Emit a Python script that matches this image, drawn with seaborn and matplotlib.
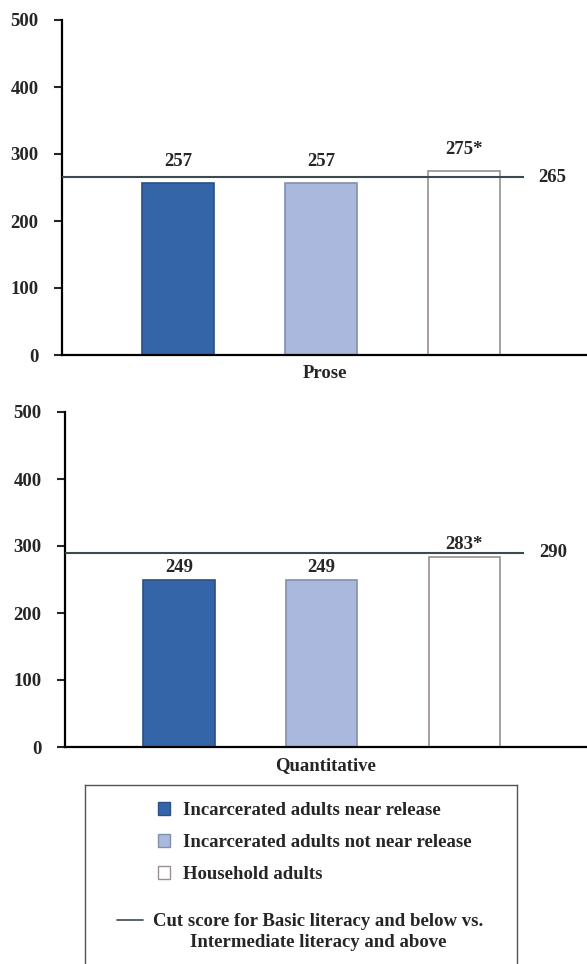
import matplotlib
matplotlib.use("Agg")
import matplotlib.pyplot as plt
import seaborn as sns
import pandas as pd
from matplotlib.patches import Patch

sns.set_style("white")
plt.rcParams['font.family'] = ['Liberation Serif', 'DejaVu Serif']
plt.rcParams['font.weight'] = 'bold'

# data
groups = ["Incarcerated adults near release",
          "Incarcerated adults not near release",
          "Household adults"]
prose = [257, 257, 275]
quant = [249, 249, 283]
prose_labels = ["257", "257", "275*"]
quant_labels = ["249", "249", "283*"]
cut_scores = [265, 290]
panels = ["Prose", "Quantitative"]

fills = ["#3465A9", "#A9B8DC", "#FFFFFF"]
edges = ["#2B4F86", "#8290AB", "#9A9090"]
fs = 13.5

fig = plt.figure(figsize=(5.87, 9.64), dpi=100)
ax1 = fig.add_axes([62/587, 1-355/964, 1-62/587, 335/964])
ax2 = fig.add_axes([65/587, 1-747/964, 1-65/587, 335/964])

for ax, vals, labs, cut, name, pad, left in [
        (ax1, prose, prose_labels, cut_scores[0], panels[0], 9, -0.81),
        (ax2, quant, quant_labels, cut_scores[1], panels[1], 3, -0.80)]:
    df = pd.DataFrame({"group": groups, "score": vals})
    sns.barplot(data=df, x="group", y="score", hue="group", palette=fills,
                legend=False, width=0.5, ax=ax, linewidth=1.2, saturation=1)
    for p, ec in zip(ax.patches, edges):
        p.set_edgecolor(ec)
    for c, lab in zip(ax.containers, labs):
        ax.bar_label(c, labels=[lab], padding=pad, fontsize=fs, fontweight='bold')
    ax.hlines(cut, left, 2.42, color="#3C4A50", linewidth=1.5, zorder=3)
    ax.text(2.62, cut, str(cut), ha='center', va='center', fontsize=fs, fontweight='bold')
    ax.set_xlim(left, 2.86)
    ax.set_ylim(0, 500)
    ax.set_yticks([0, 100, 200, 300, 400, 500])
    ax.set_xticks([])
    ax.set_xlabel(name, fontsize=fs, fontweight='bold', labelpad=7)
    ax.set_ylabel("")
    sns.despine(ax=ax)
    for s in ["left", "bottom"]:
        ax.spines[s].set_linewidth(1.6)
        ax.spines[s].set_color("black")
    ax.tick_params(axis='y', direction='out', length=6, width=1.5, pad=11,
                   labelsize=fs, left=True)
    ax.tick_params(axis='x', length=0)

# legend box
axl = fig.add_axes([85/587, -0.02, 432/587, 1-785/964+0.02])
axl.set_xticks([])
axl.set_yticks([])
for s in axl.spines.values():
    s.set_color("#555555")
    s.set_linewidth(1.0)
handles = [Patch(facecolor=f, edgecolor=e, linewidth=1.0) for f, e in zip(fills, edges)]
fig.legend(handles, groups, loc='upper left', bbox_to_anchor=(158/587, 1-802/964),
           frameon=False, handlelength=0.65, handleheight=0.65,
           handletextpad=0.7, labelspacing=0.8, borderpad=0, borderaxespad=0,
           prop={'weight': 'bold', 'size': fs})
fig.add_artist(plt.Line2D([117/587, 143/587], [1-920/964, 1-920/964],
                          color="#3C4A50", linewidth=1.2))
fig.text(318/587, 1-932/964,
         "Cut score for Basic literacy and below vs.\nIntermediate literacy and above",
         ha='center', va='center', multialignment='center', fontsize=fs,
         fontweight='bold', linespacing=1.3)

fig.savefig("out.png", dpi=100)
